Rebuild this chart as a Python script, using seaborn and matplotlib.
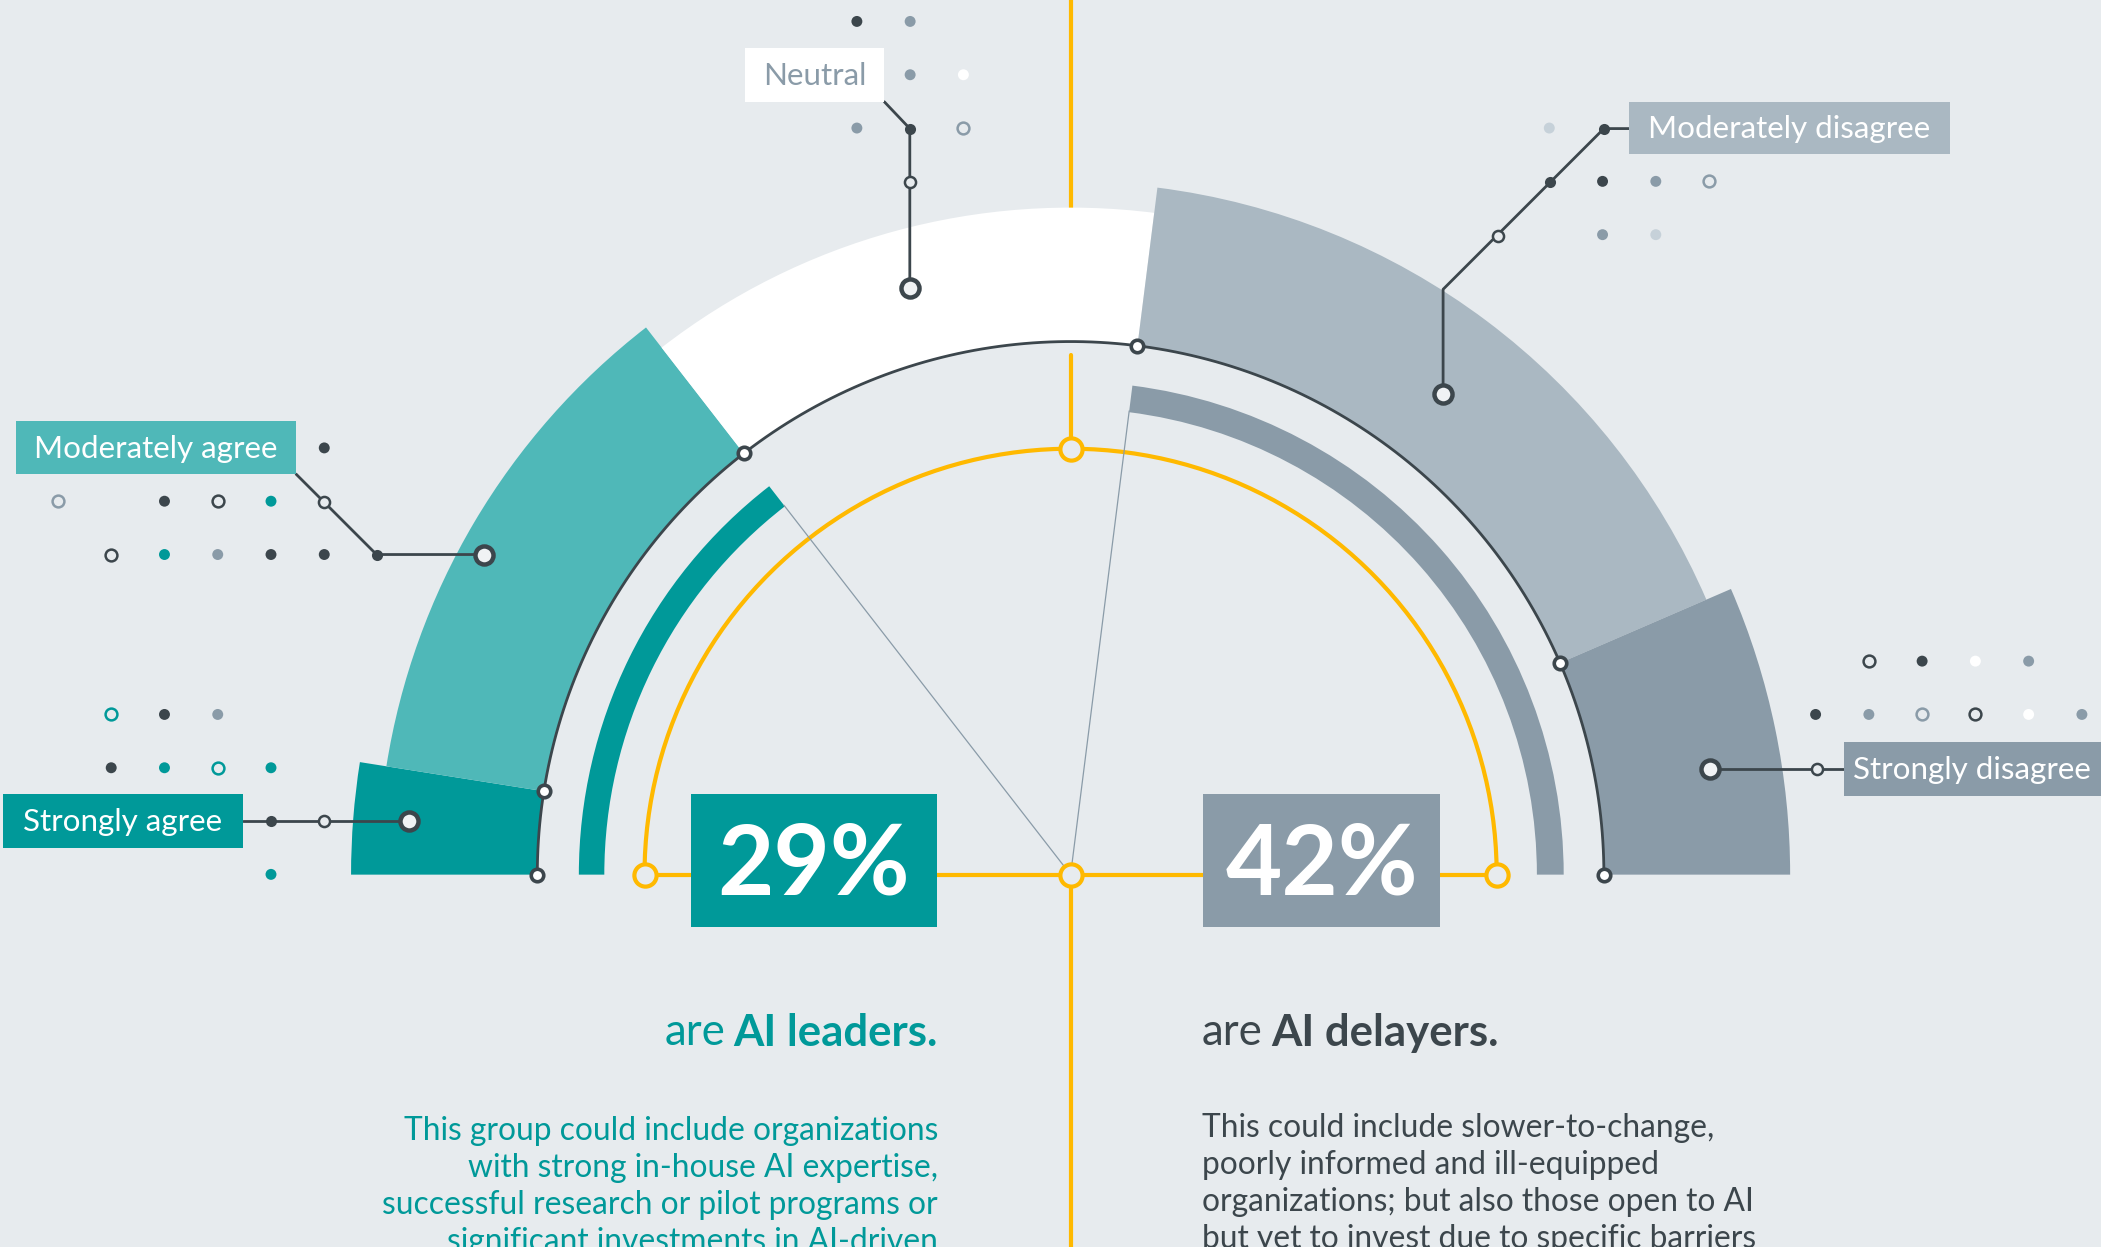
import numpy as np
import pandas as pd
import matplotlib
matplotlib.use("Agg")
import matplotlib.pyplot as plt
from matplotlib.patches import Wedge, Rectangle
import seaborn as sns

# answers, share of the half circle (%)
categories = ["Strongly agree", "Moderately agree", "Neutral",
              "Moderately disagree", "Strongly disagree"]
shares = [5, 24, 25, 33, 13]
big_numbers = ["29%", "42%"]
group_names = ["AI leaders.", "AI delayers."]
leaders_text = ["This group could include organizations",
                "with strong in-house AI expertise,",
                "successful research or pilot programs or",
                "significant investments in AI-driven"]
delayers_text = ["This could include slower-to-change,",
                 "poorly informed and ill-equipped",
                 "organizations; but also those open to AI",
                 "but yet to invest due to specific barriers"]

# decorative dot field: (col, row, colour key, open?)
dot_cols = [16, 17, 17, 18, 16, 18,
            6, 1, 3, 4, 5, 2, 3, 4, 5, 6,
            2, 3, 4, 2, 3, 4, 5, 5,
            29, 30, 31, 32, 30, 31,
            35, 36, 37, 38, 34, 35, 36, 37, 38, 39]
dot_rows = [0, 0, 1, 1, 2, 2,
            8, 9, 9, 9, 9, 10, 10, 10, 10, 10,
            13, 13, 13, 14, 14, 14, 14, 16,
            2, 3, 3, 3, 4, 4,
            12, 12, 12, 12, 13, 13, 13, 13, 13, 13]
dot_kind = ["dark", "grey", "grey", "white", "grey", "grey",
            "dark", "grey", "dark", "dark", "teal", "dark", "teal", "grey", "dark", "dark",
            "teal", "dark", "grey", "dark", "teal", "teal", "teal", "teal",
            "pale", "dark", "grey", "grey", "grey", "pale",
            "dark", "dark", "white", "grey", "dark", "grey", "grey", "dark", "white", "grey"]
dot_open = [0, 0, 0, 0, 0, 1,
            0, 1, 0, 1, 0, 1, 0, 0, 0, 0,
            1, 0, 0, 0, 0, 1, 0, 0,
            0, 0, 0, 1, 0, 0,
            1, 0, 0, 0, 0, 0, 1, 1, 0, 0]

BG = "#E7EBEE"
TEAL = "#009999"
TEAL_L = "#4FB8B8"
GREY = "#8A9BA8"
GREY_L = "#AAB8C2"
DARK = "#3C464C"
YELLOW = "#FFB900"
palette = {"dark": DARK, "grey": GREY, "teal": TEAL, "white": "white", "pale": "#C6D1D9"}
seg_colors = [TEAL, TEAL_L, "white", GREY_L, GREY]
outer_r = [537, 517, 498, 517, 537]

sns.set_theme(style="white")
plt.rcParams["font.family"] = ["Lato", "DejaVu Sans"]

fig = plt.figure(figsize=(21.01, 12.47), dpi=100, facecolor=BG)
ax = fig.add_axes([0, 0, 1, 1])
ax.set_facecolor(BG)
ax.set_xlim(0, 1568)
ax.set_ylim(931, 0)
ax.axis("off")

cx, cy = 799, 653
R_IN = 398


def polar(r, phi):
    a = np.radians(phi)
    return cx + r * np.cos(a), cy - r * np.sin(a)


# angles of the segment borders, going clockwise from the left
bounds = 180 - np.concatenate([[0], np.cumsum(shares)]) * 1.8

# yellow frame
ax.plot([cx, cx], [0, 200], color=YELLOW, lw=3, zorder=1)
ax.plot([cx, cx], [265, 335], color=YELLOW, lw=3, zorder=1)
ax.plot([cx, cx], [653, 931], color=YELLOW, lw=3, zorder=1)
ax.plot([480, 1117], [cy, cy], color=YELLOW, lw=3, zorder=1)
t = np.linspace(0, 180, 200)
yx, yy = polar(318, t)
ax.plot(yx, yy, color=YELLOW, lw=3, zorder=1)
for p in [polar(318, 180), polar(318, 90), (cx, cy), polar(318, 0)]:
    ax.plot(*p, "o", ms=16, mfc=BG, mec=YELLOW, mew=3, zorder=3)

# outer segments
for i in range(len(shares)):
    hi, lo = bounds[i], bounds[i + 1]
    ax.add_patch(Wedge((cx, cy), outer_r[i], -hi, -lo, width=outer_r[i] - R_IN,
                       facecolor=seg_colors[i], edgecolor="none", zorder=2))

# inner bars for the two groups
agree = shares[0] + shares[1]
disagree = shares[3] + shares[4]
ax.add_patch(Wedge((cx, cy), 367, -180, -(180 - agree * 1.8), width=19,
                   facecolor=TEAL, edgecolor="none", zorder=2))
ax.add_patch(Wedge((cx, cy), 368, -disagree * 1.8, 0, width=20,
                   facecolor=GREY, edgecolor="none", zorder=2))
for phi in [180 - agree * 1.8, disagree * 1.8]:
    ex, ey = polar(349, phi)
    ax.plot([cx, ex], [cy, ey], color=GREY, lw=0.9, zorder=2)

# dark arc with nodes
ax_, ay_ = polar(R_IN, t)
ax.plot(ax_, ay_, color=DARK, lw=2, zorder=3)
for b in bounds:
    ax.plot(*polar(R_IN, b), "o", ms=9, mfc="white", mec=DARK, mew=2.6, zorder=4)

# dot field
dots = pd.DataFrame({"col": dot_cols, "row": dot_rows, "kind": dot_kind, "open": dot_open})
dots["x"] = 3.5 + dots["col"] * 39.75
dots["y"] = 16 + dots["row"] * 39.8
sns.scatterplot(data=dots[dots["open"] == 0], x="x", y="y", hue="kind", palette=palette,
                s=62, linewidth=0, legend=False, ax=ax, zorder=4)
for _, d in dots[dots["open"] == 1].iterrows():
    ax.plot(d["x"], d["y"], "o", ms=8.5, mfc="none", mec=palette[d["kind"]], mew=1.8, zorder=4)

# call-outs
callouts = [
    ("Neutral", (556, 36, 104, 40), "white", GREY,
     [(660, 76), (679, 96), (679, 215)], [(679, 96)], [(679, 136)]),
    ("Moderately agree", (12, 314, 209, 40), TEAL_L, "white",
     [(221, 354), (281, 414), (361, 414)], [(281, 414)], [(242, 375)]),
    ("Strongly agree", (2, 593, 179, 40), TEAL, "white",
     [(181, 613), (305, 613)], [(202, 613)], [(242, 613)]),
    ("Moderately disagree", (1216, 76, 239, 39), GREY_L, "white",
     [(1216, 96), (1197, 96), (1077, 216), (1077, 294)], [(1197, 96), (1157, 136)], [(1118, 176)]),
    ("Strongly disagree", (1376, 554, 192, 40), GREY, "white",
     [(1376, 574), (1276, 574)], [], [(1356, 574)]),
]
for label, (bx, by, bw, bh), fc, tc, path, fdots, odots in callouts:
    ax.add_patch(Rectangle((bx, by), bw, bh, facecolor=fc, edgecolor="none", zorder=5))
    ax.text(bx + bw / 2, by + bh / 2 + 1, label, ha="center", va="center",
            fontsize=22.6, color=tc, zorder=6)
    px, py = zip(*path)
    ax.plot(px, py, color=DARK, lw=2, zorder=4)
    for p in fdots:
        ax.plot(*p, "o", ms=8, mfc=DARK, mec=DARK, mew=0, zorder=5)
    for p in odots:
        ax.plot(*p, "o", ms=8, mfc=BG, mec=DARK, mew=1.8, zorder=5)
    ax.plot(*path[-1], "o", ms=13, mfc="#F0F2F4", mec=DARK, mew=3.2, zorder=5)

# percentage boxes
for (bx, bw), num, fc in zip([(516, 183), (898, 177)], big_numbers, [TEAL, GREY]):
    ax.add_patch(Rectangle((bx, 593), bw, 99, facecolor=fc, edgecolor="none", zorder=5))
    ax.text(bx + bw / 2, 668, num, ha="center", va="baseline", fontsize=70,
            fontweight="bold", color="white", zorder=6)

# headlines
t1 = ax.text(700, 781, group_names[0], ha="right", va="baseline", fontsize=31.5,
             fontweight="bold", color=TEAL)
ax.annotate("are", xy=(0, 0), xycoords=t1, xytext=(-6, 0), textcoords="offset points",
            ha="right", va="bottom", fontsize=31.5, color=TEAL)
t2 = ax.text(897, 780, "are", ha="left", va="baseline", fontsize=31.5, color=DARK)
ax.annotate(group_names[1], xy=(1, 0), xycoords=t2, xytext=(6, 0), textcoords="offset points",
            ha="left", va="bottom", fontsize=31.5, fontweight="bold", color=DARK)

# paragraphs
for i, line in enumerate(leaders_text):
    ax.text(700, 851 + i * 27.6, line, ha="right", va="baseline", fontsize=22.9, color=TEAL)
for i, line in enumerate(delayers_text):
    ax.text(897, 849 + i * 27.6, line, ha="left", va="baseline", fontsize=22.9, color=DARK)

fig.savefig("out.png", dpi=100, facecolor=BG)
